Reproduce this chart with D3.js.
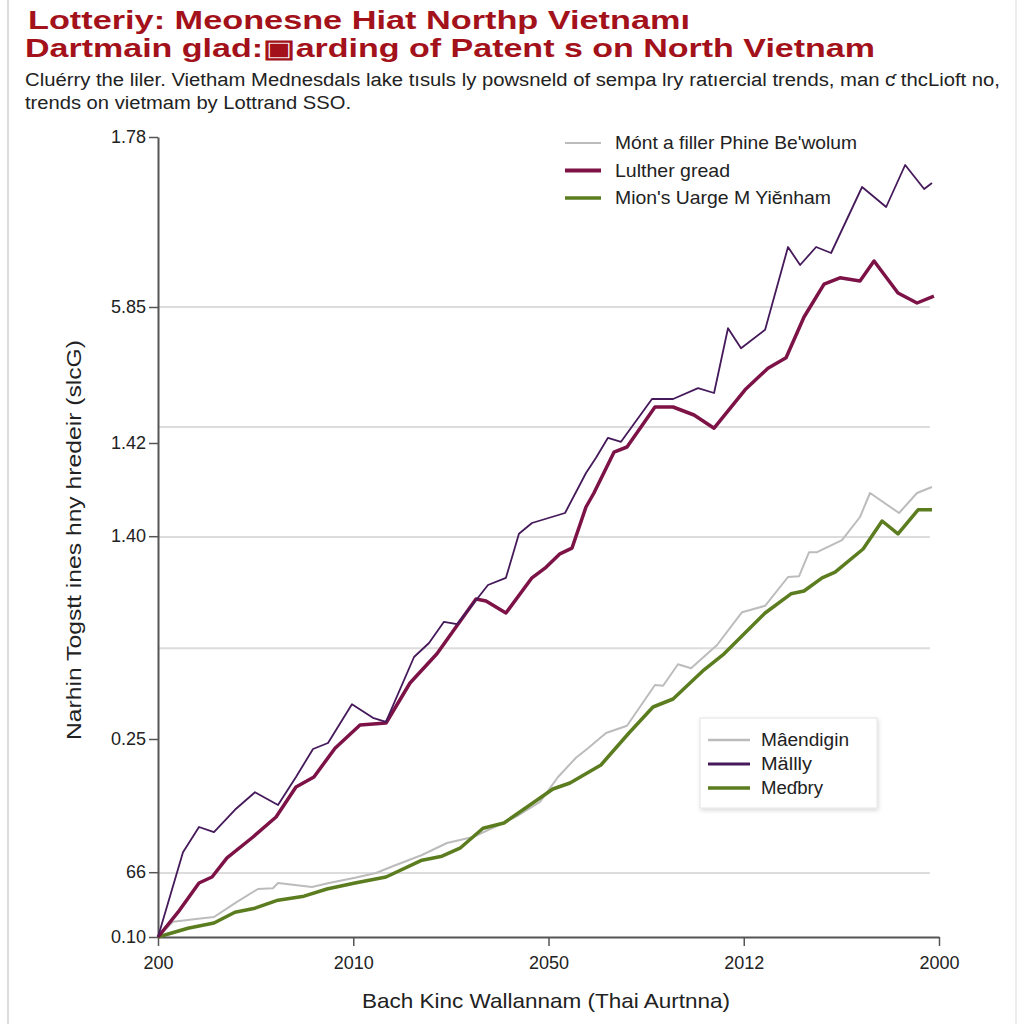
<!DOCTYPE html>
<html>
<head>
  <script src="https://d3js.org/d3.v7.min.js"></script>
  <title>Lottery chart</title>
  <style>
    body { margin: 0; background: #fff; }
    text { font-family: "Liberation Sans", Arial, sans-serif; }
  </style>
</head>
<body>
  <div id="chart"></div>
  <script>
    // tick labels (as printed on the picture)
    const xTickVals = [0, 15, 30, 45, 60];
    const xTickLabels = ["200", "2010", "2050", "2012", "2000"];
    const yTickVals = [100, 78.75, 61.75, 50.1, 24.75, 8.1, 0];
    const yTickLabels = ["1.78", "5.85", "1.42", "1.40", "0.25", "66", "0.10"];
    const gridVals = [78.75, 63.75, 50, 36.1, 8];

    // series: x positions and values
    const purpleX = [0, 1.92, 3.15, 4.30, 5.91, 7.45, 9.22, 10.60, 11.91, 13.06, 14.90, 16.51, 17.51, 19.67, 20.82, 21.97, 22.97, 24.43, 25.35, 26.73, 27.73, 28.73, 31.27, 32.88, 33.65, 34.57, 35.57, 37.95, 39.57, 41.49, 42.72, 43.79, 44.79, 46.64, 48.40, 49.33, 50.56, 51.71, 54.09, 55.94, 57.40, 58.86, 59.46];
    const purpleY = [0, 10.6, 13.75, 13.1, 15.9, 18.1, 16.5, 20, 23.5, 24.25, 29.1, 27.4, 26.9, 35, 36.75, 39.4, 39.1, 42.1, 44, 44.9, 50.4, 51.75, 53, 58, 59.9, 62.4, 61.9, 67.25, 67.25, 68.6, 68, 76.1, 73.6, 75.9, 86.25, 84, 86.25, 85.5, 93.75, 91.25, 96.5, 93.5, 94.25];

    const maroonX = [0, 1.54, 3.15, 4.15, 5.30, 7.30, 9.07, 10.60, 11.98, 13.60, 15.52, 17.52, 19.36, 21.43, 24.43, 25.20, 26.73, 28.73, 29.73, 30.88, 31.80, 32.88, 33.49, 35.03, 36.03, 38.18, 39.57, 41.18, 42.72, 45.10, 46.86, 48.25, 49.63, 51.17, 52.39, 53.93, 55.01, 56.85, 58.31, 59.61];
    const maroonY = [0, 3.1, 6.75, 7.5, 9.9, 12.5, 15, 18.75, 20, 23.6, 26.5, 26.75, 31.75, 35.4, 42.25, 42, 40.5, 44.9, 46.1, 47.9, 48.6, 53.75, 55.5, 60.6, 61.25, 66.25, 66.25, 65.25, 63.6, 68.4, 71.1, 72.4, 77.5, 81.6, 82.4, 82, 84.5, 80.5, 79.25, 80.1];

    const grayX = [0, 1.15, 2.92, 4.30, 6.07, 7.68, 8.83, 9.22, 11.83, 13.14, 15.13, 16.75, 18.13, 20.28, 22.20, 24.20, 26.35, 27.73, 29.35, 30.73, 32.11, 33.03, 34.42, 36.03, 38.18, 38.80, 39.95, 40.95, 42.95, 44.87, 46.64, 48.40, 49.25, 50.02, 50.63, 52.55, 53.93, 54.70, 56.93, 58.31, 59.46];
    const grayY = [0, 1.9, 2.25, 2.5, 4.4, 6, 6.1, 6.75, 6.25, 6.75, 7.4, 8, 8.9, 10.25, 11.75, 12.5, 14.1, 15.25, 16.9, 20, 22.4, 23.6, 25.5, 26.4, 31.5, 31.4, 34.1, 33.6, 36.5, 40.6, 41.4, 45, 45.1, 48.1, 48.1, 49.6, 52.5, 55.5, 53, 55.5, 56.25];

    const greenX = [0, 2.30, 4.30, 5.91, 7.45, 9.22, 11.22, 12.98, 15.13, 17.52, 20.28, 21.82, 23.20, 24.97, 26.58, 28.35, 30.34, 31.65, 34.03, 36.18, 38.03, 39.57, 41.95, 43.49, 46.64, 48.63, 49.63, 51.02, 52.02, 54.17, 55.63, 56.85, 58.39, 59.46];
    const greenY = [0, 1.1, 1.75, 3.1, 3.6, 4.6, 5.1, 6, 6.75, 7.5, 9.6, 10.1, 11.1, 13.6, 14.25, 16.25, 18.5, 19.25, 21.5, 25.5, 28.75, 29.75, 33.4, 35.4, 40.5, 42.9, 43.25, 44.9, 45.6, 48.5, 52, 50.4, 53.4, 53.4];

    const legendTop = ["Mónt a filler Phine Be'wolum", "Lulther gread", "Mion's Uarge M Yiěnham"];
    const legendBox = ["Mâendigin", "Mällly", "Meɗbry"];

    const colors = { gray: "#bcbcbc", maroon: "#7d1247", purple: "#45195a", green: "#5b7d1f" };

    const margin = { top: 137, right: 85, bottom: 87, left: 158 },
      width = 1024 - margin.left - margin.right,
      height = 1024 - margin.top - margin.bottom;

    const root = d3.select("#chart")
      .append("svg")
        .attr("width", 1024)
        .attr("height", 1024);

    // faint frame
    root.append("line").attr("x1", 8).attr("x2", 8).attr("y1", 0).attr("y2", 1024)
      .attr("stroke", "#d0d0d0").attr("stroke-width", 1.5);
    root.append("line").attr("x1", 1016).attr("x2", 1016).attr("y1", 0).attr("y2", 1024)
      .attr("stroke", "#e6e6e6").attr("stroke-width", 1.5);

    // titles
    root.append("text").attr("x", 28).attr("y", 29)
      .attr("textLength", 662).attr("lengthAdjust", "spacingAndGlyphs")
      .style("font-size", "25px").style("font-weight", "bold").style("fill", "#a3111a")
      .text("Lotteriy: Meonesne Hiat Northp Vietnamı");
    root.append("text").attr("x", 25).attr("y", 57)
      .attr("textLength", 850).attr("lengthAdjust", "spacingAndGlyphs")
      .style("font-size", "25px").style("font-weight", "bold").style("fill", "#a3111a")
      .text("Dartmain glad:▣arding of Patent s on North Vietnam");
    root.append("text").attr("x", 25).attr("y", 86)
      .attr("textLength", 975).attr("lengthAdjust", "spacingAndGlyphs")
      .style("font-size", "18px").style("fill", "#222")
      .text("Cluérry the liler. Vietham Mednesdals lake tısuls ly powsneld of sempa lry ratıercial trends, man ƈ thcLioft no,");
    root.append("text").attr("x", 25).attr("y", 109)
      .attr("textLength", 326).attr("lengthAdjust", "spacingAndGlyphs")
      .style("font-size", "18px").style("fill", "#222")
      .text("trends on vietmam by Lottrand SSO.");

    const svg = root.append("g")
      .attr("transform", `translate(${margin.left},${margin.top})`);

    const x = d3.scaleLinear().domain([0, 60]).range([0, width]);
    const y = d3.scaleLinear().domain([0, 100]).range([height, 0]);

    // gridlines
    svg.selectAll(".grid")
      .data(gridVals)
      .join("line")
        .attr("x1", 0).attr("x2", x(59.3))
        .attr("y1", d => y(d)).attr("y2", d => y(d))
        .attr("stroke", "#dcdcdc").attr("stroke-width", 2);

    // axes
    const xAxis = svg.append("g")
      .attr("transform", `translate(0,${height})`)
      .call(d3.axisBottom(x).tickValues(xTickVals).tickFormat((d, i) => xTickLabels[i]).tickSize(9).tickSizeOuter(0));
    const yAxis = svg.append("g")
      .call(d3.axisLeft(y).tickValues(yTickVals).tickFormat((d, i) => yTickLabels[i]).tickSize(9).tickSizeOuter(0));
    [xAxis, yAxis].forEach(a => {
      a.select(".domain").attr("stroke", "#555").attr("stroke-width", 2);
      a.selectAll(".tick line").attr("stroke", "#555").attr("stroke-width", 1.5);
      a.selectAll(".tick text").style("font-family", "Liberation Sans, Arial, sans-serif")
        .style("font-size", "18px").style("fill", "#222");
    });
    xAxis.selectAll(".tick text").attr("dy", "1.1em");

    // axis titles
    root.append("text")
      .attr("transform", "translate(81,540) rotate(-90)")
      .attr("text-anchor", "middle")
      .attr("textLength", 400).attr("lengthAdjust", "spacingAndGlyphs")
      .style("font-size", "21px").style("fill", "#222")
      .text("Narhin Togstt ines hny hredeir (slcG)");
    root.append("text")
      .attr("x", 546).attr("y", 1008)
      .attr("text-anchor", "middle")
      .attr("textLength", 368).attr("lengthAdjust", "spacingAndGlyphs")
      .style("font-size", "21px").style("fill", "#222")
      .text("Bach Kinc Wallannam (Thai Aurtnna)");

    // lines
    const line = d3.line().x(d => x(d[0])).y(d => y(d[1]));
    const series = [
      { xs: grayX, ys: grayY, color: colors.gray, w: 2 },
      { xs: greenX, ys: greenY, color: colors.green, w: 3.5 },
      { xs: maroonX, ys: maroonY, color: colors.maroon, w: 3.5 },
      { xs: purpleX, ys: purpleY, color: colors.purple, w: 1.8 }
    ];
    svg.selectAll(".series")
      .data(series)
      .join("path")
        .attr("d", s => line(d3.zip(s.xs, s.ys)))
        .attr("fill", "none")
        .attr("stroke", s => s.color)
        .attr("stroke-width", s => s.w)
        .attr("stroke-linejoin", "round");

    // top legend
    const topItems = [
      { label: legendTop[0], color: colors.gray, w: 2, len: 242 },
      { label: legendTop[1], color: colors.maroon, w: 4, len: 115 },
      { label: legendTop[2], color: colors.green, w: 3.5, len: 216 }
    ];
    const lg1 = root.append("g").attr("transform", "translate(565,143)");
    topItems.forEach((d, i) => {
      lg1.append("line").attr("x1", 0).attr("x2", 36).attr("y1", i * 27.5).attr("y2", i * 27.5)
        .attr("stroke", d.color).attr("stroke-width", d.w);
      lg1.append("text").attr("x", 50).attr("y", i * 27.5 + 6)
        .attr("textLength", d.len).attr("lengthAdjust", "spacingAndGlyphs")
        .style("font-size", "18.5px").style("fill", "#222").text(d.label);
    });

    // boxed legend
    const defs = root.append("defs");
    const f = defs.append("filter").attr("id", "shadow").attr("x", "-10%").attr("y", "-10%").attr("width", "130%").attr("height", "130%");
    f.append("feDropShadow").attr("dx", 1).attr("dy", 2).attr("stdDeviation", 2).attr("flood-color", "#000").attr("flood-opacity", 0.15);
    const lg2 = root.append("g").attr("transform", "translate(700,718)");
    lg2.append("rect").attr("width", 177).attr("height", 90)
      .attr("fill", "#fff").attr("stroke", "#e4e4e4").attr("filter", "url(#shadow)");
    const boxItems = [
      { label: legendBox[0], color: colors.gray, w: 2.5, len: 88 },
      { label: legendBox[1], color: colors.purple, w: 3, len: 51 },
      { label: legendBox[2], color: colors.green, w: 3.5, len: 62 }
    ];
    boxItems.forEach((d, i) => {
      const yy = 22 + i * 24;
      lg2.append("line").attr("x1", 8).attr("x2", 50).attr("y1", yy).attr("y2", yy)
        .attr("stroke", d.color).attr("stroke-width", d.w);
      lg2.append("text").attr("x", 61).attr("y", yy + 6)
        .attr("textLength", d.len).attr("lengthAdjust", "spacingAndGlyphs")
        .style("font-size", "18px").style("fill", "#222").text(d.label);
    });
  </script>
</body>
</html>
